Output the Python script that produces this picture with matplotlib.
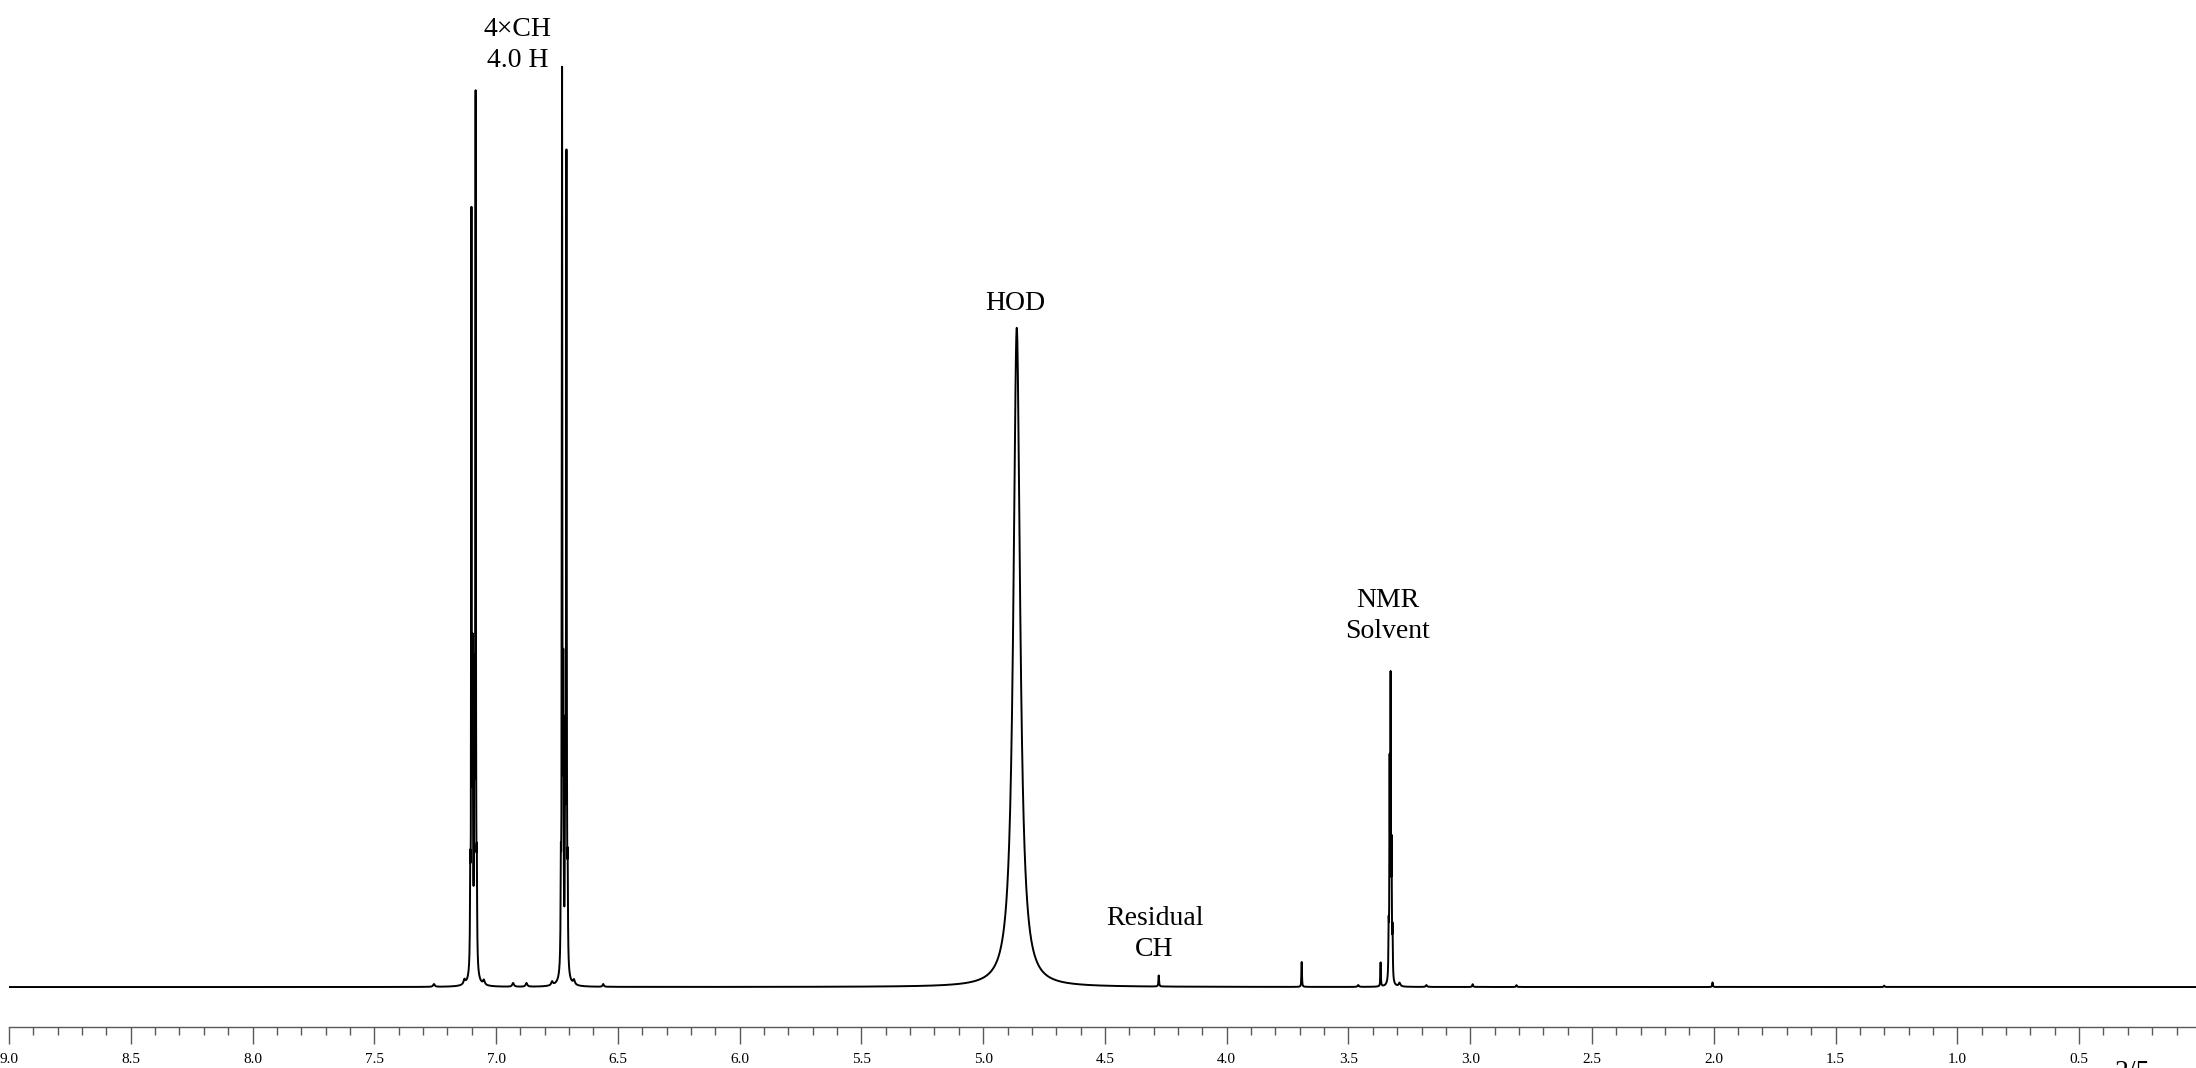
import matplotlib
matplotlib.use('Agg')
import numpy as np
import matplotlib.pyplot as plt
from matplotlib.ticker import MultipleLocator, FormatStrFormatter

plt.rcParams['font.family'] = ['Liberation Serif', 'DejaVu Serif']

# ---------------------------------------------
# peak list
# shift (ppm), height (% of tallest line), half width (ppm)
# ---------------------------------------------
shift = [7.106, 7.101, 7.096, 7.089, 7.084, 7.079,      # AA'BB' part 1
         6.734, 6.729, 6.724, 6.716, 6.711, 6.706,      # AA'BB' part 2
         7.092, 6.720,                                   # broad feet
         4.862,                                          # HOD
         4.279,                                          # residual CH
         3.692, 3.368,
         3.335, 3.331, 3.327, 3.323, 3.319,              # solvent quintet
         7.255, 7.13, 7.05, 6.93, 6.875, 6.77, 6.68, 6.56,
         3.46, 3.29, 3.18, 2.99, 2.81, 2.005, 1.30]
height = [9, 81.0, 31, 28, 93.8, 9,
          9, 96.5, 29, 22, 87.8, 9,
          1.2, 1.2,
          71.6,
          1.2,
          2.7, 2.6,
          5, 22, 31.2, 13, 5,
          0.3, 0.5, 0.5, 0.4, 0.4, 0.4, 0.5, 0.3,
          0.2, 0.4, 0.2, 0.3, 0.2, 0.5, 0.15]
hwhm = [0.0012, 0.0012, 0.0012, 0.0012, 0.0012, 0.0012,
        0.0012, 0.0012, 0.0012, 0.0012, 0.0012, 0.0012,
        0.012, 0.012,
        0.0165,
        0.0015,
        0.0012, 0.0012,
        0.0012, 0.0012, 0.0012, 0.0012, 0.0012,
        0.004, 0.004, 0.004, 0.004, 0.004, 0.004, 0.004, 0.003,
        0.003, 0.004, 0.003, 0.002, 0.002, 0.0015, 0.002]

# annotations
label_text = ['4\u00d7CH\n4.0 H', 'HOD', 'NMR\nSolvent', 'Residual\nCH']
label_x = [6.911, 4.868, 3.339, 4.296]
label_y = [102.3, 74.2, 40.3, 5.8]

# ---------------------------------------------
# spectrum = sum of lorentzian lines
# ---------------------------------------------
ppm = np.arange(0.0, 9.2, 0.0002)
spec = np.zeros_like(ppm)
for s, h, w in zip(shift, height, hwhm):
    spec += h / (1 + ((ppm - s) / w) ** 2)

fig = plt.figure(figsize=(21.96, 10.68), dpi=100)
ax = fig.add_axes([9 / 2196, 41 / 1068, 1 - 9 / 2196, 1 - 41 / 1068])

ax.plot(ppm, spec, color='black', linewidth=1.4)

for t, x, y in zip(label_text, label_x, label_y):
    ax.text(x, y, t, ha='center', va='center', fontsize=20, linespacing=1.32)

ax.set_xlim(9.0, 0.02)
ax.set_ylim(-4.34, 107.2)

for side in ['top', 'left', 'right']:
    ax.spines[side].set_visible(False)
ax.spines['bottom'].set_color('0.35')
ax.spines['bottom'].set_linewidth(1.0)
ax.set_yticks([])

ax.xaxis.set_major_locator(MultipleLocator(0.5))
ax.xaxis.set_minor_locator(MultipleLocator(0.1))
ax.xaxis.set_major_formatter(FormatStrFormatter('%.1f'))
ax.tick_params(axis='x', which='major', direction='out', length=12, width=1.0,
               color='0.35', labelsize=11, pad=7)
ax.tick_params(axis='x', which='minor', direction='out', length=6, width=1.0,
               color='0.35')

# page number, cut by the bottom edge
fig.text(2132 / 2196, -0.0103, '2/5', ha='center', va='baseline', fontsize=20)

plt.savefig('out.png', dpi=100)
